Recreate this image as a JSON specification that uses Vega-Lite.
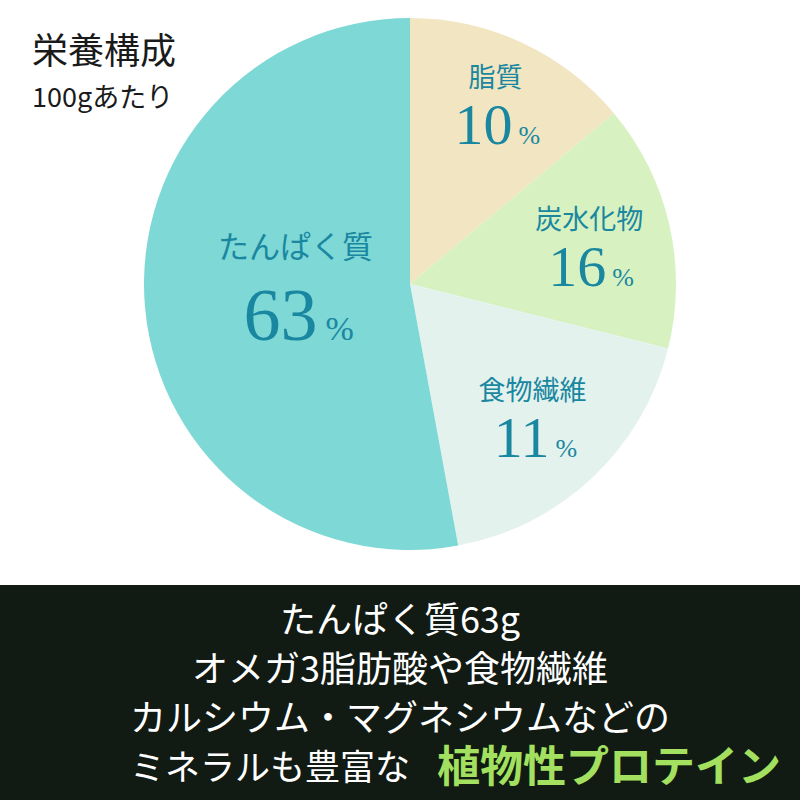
{
  "$schema": "https://vega.github.io/schema/vega-lite/v6.json",
  "padding": 0,
  "spacing": 17,
  "background": "#ffffff",
  "config": {"view": {"stroke": null}},
  "datasets": {
    "nutrients": [
      {"idx": 1, "name": "脂質", "share": 13.9, "pct": "10"},
      {"idx": 2, "name": "炭水化物", "share": 15.0, "pct": "16"},
      {"idx": 3, "name": "食物繊維", "share": 18.2, "pct": "11"},
      {"idx": 4, "name": "たんぱく質", "share": 52.9, "pct": "63"}
    ],
    "lines": [
      {"line": 1, "part": "main", "text": "たんぱく質63g"},
      {"line": 2, "part": "main", "text": "オメガ3脂肪酸や食物繊維"},
      {"line": 3, "part": "main", "text": "カルシウム・マグネシウムなどの"},
      {"line": 4, "part": "lead", "text": "ミネラルも豊富な"},
      {"line": 4, "part": "accent", "text": "植物性プロテイン"}
    ]
  },
  "vconcat": [
    {
      "spacing": 0,
      "hconcat": [
        {
          "width": 20,
          "height": 568,
          "data": {"name": "nutrients"},
          "mark": {"type": "text"},
          "encoding": {"text": {"value": ""}}
        },
        {
          "width": 780,
          "height": 568,
          "data": {"name": "nutrients"},
          "title": {
            "text": "栄養構成",
            "subtitle": "100gあたり",
            "anchor": "start",
            "frame": "group",
            "offset": -113,
            "dx": 12,
            "font": "Noto Sans CJK JP",
            "fontSize": 36,
            "fontWeight": "normal",
            "color": "#1a1a1a",
            "subtitleFont": "Noto Sans CJK JP",
            "subtitleFontSize": 27,
            "subtitleColor": "#1a1a1a",
            "subtitlePadding": 14
          },
          "encoding": {
            "theta": {"field": "share", "type": "quantitative", "stack": true},
            "order": {"field": "idx", "type": "quantitative"}
          },
          "layer": [
            {
              "mark": {"type": "arc", "outerRadius": 266},
              "encoding": {
                "color": {
                  "field": "name",
                  "type": "nominal",
                  "scale": {
                    "domain": ["脂質", "炭水化物", "食物繊維", "たんぱく質"],
                    "range": ["#f1e5c2", "#d7f1c1", "#e4f2ee", "#7ed8d6"]
                  },
                  "legend": null
                }
              }
            },
            {
              "mark": {
                "type": "text",
                "font": "Noto Sans CJK JP",
                "color": "#1a87a0",
                "baseline": "middle",
                "align": "center",
                "radius": {"expr": "datum.name === 'たんぱく質' ? 115 : datum.name === '脂質' ? 202 : datum.name === '炭水化物' ? 184 : 179"},
                "dy": {"expr": "datum.name === 'たんぱく質' ? -45 : -22"}
              },
              "encoding": {
                "text": {"field": "name", "type": "nominal"},
                "size": {"condition": {"test": "datum.name === 'たんぱく質'", "value": 31}, "value": 27}
              }
            },
            {
              "mark": {
                "type": "text",
                "font": "Liberation Serif",
                "color": "#1a87a0",
                "baseline": "alphabetic",
                "align": "right",
                "radius": {"expr": "datum.name === 'たんぱく質' ? 115 : datum.name === '脂質' ? 202 : datum.name === '炭水化物' ? 184 : 179"},
                "dy": {"expr": "datum.name === 'たんぱく質' ? 46 : 43"},
                "dx": {"expr": "datum.name === 'たんぱく質' ? 22 : 17"}
              },
              "encoding": {
                "text": {"field": "pct", "type": "nominal"},
                "size": {"condition": {"test": "datum.name === 'たんぱく質'", "value": 74}, "value": 58}
              }
            },
            {
              "mark": {
                "type": "text",
                "font": "Liberation Serif",
                "color": "#1a87a0",
                "baseline": "alphabetic",
                "align": "left",
                "radius": {"expr": "datum.name === 'たんぱく質' ? 115 : datum.name === '脂質' ? 202 : datum.name === '炭水化物' ? 184 : 179"},
                "dy": {"expr": "datum.name === 'たんぱく質' ? 46 : 43"},
                "dx": {"expr": "datum.name === 'たんぱく質' ? 30 : 23"}
              },
              "encoding": {
                "text": {"value": "%"},
                "size": {"condition": {"test": "datum.name === 'たんぱく質'", "value": 34}, "value": 26}
              }
            }
          ]
        }
      ]
    },
    {
      "width": 800,
      "height": 215,
      "view": {"fill": "#111a13", "stroke": null},
      "data": {"name": "lines"},
      "encoding": {
        "y": {
          "field": "line",
          "type": "ordinal",
          "scale": {"type": "point", "domain": [1, 2, 3, 4], "padding": 0.69},
          "axis": null
        }
      },
      "layer": [
        {
          "transform": [{"filter": "datum.part === 'main'"}],
          "mark": {"type": "text", "font": "Noto Sans CJK JP", "fontSize": 36, "color": "#ffffff", "align": "center", "baseline": "middle", "dy": 3},
          "encoding": {"text": {"field": "text", "type": "nominal"}}
        },
        {
          "transform": [{"filter": "datum.part === 'lead'"}],
          "mark": {"type": "text", "font": "Noto Sans CJK JP", "fontSize": 35, "color": "#ffffff", "align": "right", "baseline": "middle", "dx": 10, "dy": 3},
          "encoding": {"text": {"field": "text", "type": "nominal"}}
        },
        {
          "transform": [{"filter": "datum.part === 'accent'"}],
          "mark": {"type": "text", "font": "Noto Sans CJK JP", "fontSize": 43, "fontWeight": "bold", "color": "#a3e05f", "align": "left", "baseline": "middle", "dx": 37, "dy": 3},
          "encoding": {"text": {"field": "text", "type": "nominal"}}
        }
      ]
    }
  ]
}
